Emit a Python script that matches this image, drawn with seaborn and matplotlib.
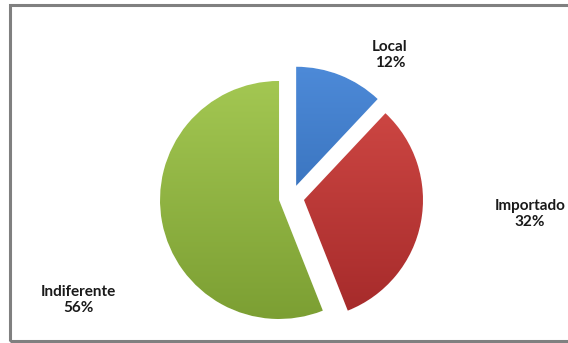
import matplotlib
matplotlib.use("Agg")
import matplotlib.pyplot as plt
import seaborn as sns
import numpy as np
from matplotlib.patches import Rectangle
from matplotlib.colors import LinearSegmentedColormap

categories = ["Local", "Importado", "Indiferente"]
values = [12, 32, 56]
colors = ["#3b78c6", "#c33836", "#93bb40"]
light = ["#4d8ad8", "#d24a46", "#a3c752"]
dark = ["#2a62aa", "#a52a2a", "#7c9f33"]

sns.set_theme(style="white")
plt.rcParams['font.family'] = ['Lato', 'DejaVu Sans']

W, H = 568, 343
fig = plt.figure(figsize=(W / 100, H / 100), dpi=100)
fig.patch.set_facecolor("white")
ax = fig.add_axes([0, 0, 1, 1])

cx, cy, r = 291.5, H - 197.6, 119
wedges, _ = ax.pie(values, colors=colors, startangle=90, counterclock=False,
                   radius=r, center=(cx, cy), explode=[12.7] * 3, frame=True)

for w, lc, dc in zip(wedges, light, dark):
    cmap = LinearSegmentedColormap.from_list("g", [lc, dc])
    grad = np.linspace(0, 1, 256).reshape(-1, 1)
    xc, yc = w.center
    im = ax.imshow(grad, cmap=cmap, origin="upper", aspect="auto",
                   extent=(xc - r, xc + r, yc - r, yc + r), zorder=w.get_zorder() + 0.1)
    im.set_clip_path(w)

ax.set_xlim(0, W)
ax.set_ylim(0, H)
ax.set_aspect("equal")
ax.axis("off")

label_pos = [(390, 55), (530, 214), (78, 300)]
for cat, val, (lx, ly) in zip(categories, values, label_pos):
    ax.text(lx, H - ly, f"{cat}\n{val}%", ha="center", va="center",
            fontsize=11, fontweight="bold", color="#1a1a1a", linespacing=1.25)

fig.add_artist(Rectangle((10 / W, 2 / H), 1.0, (H - 7) / H, transform=fig.transFigure,
                         fill=False, edgecolor="#808080", linewidth=2.2))

fig.savefig("out.png", dpi=100)
